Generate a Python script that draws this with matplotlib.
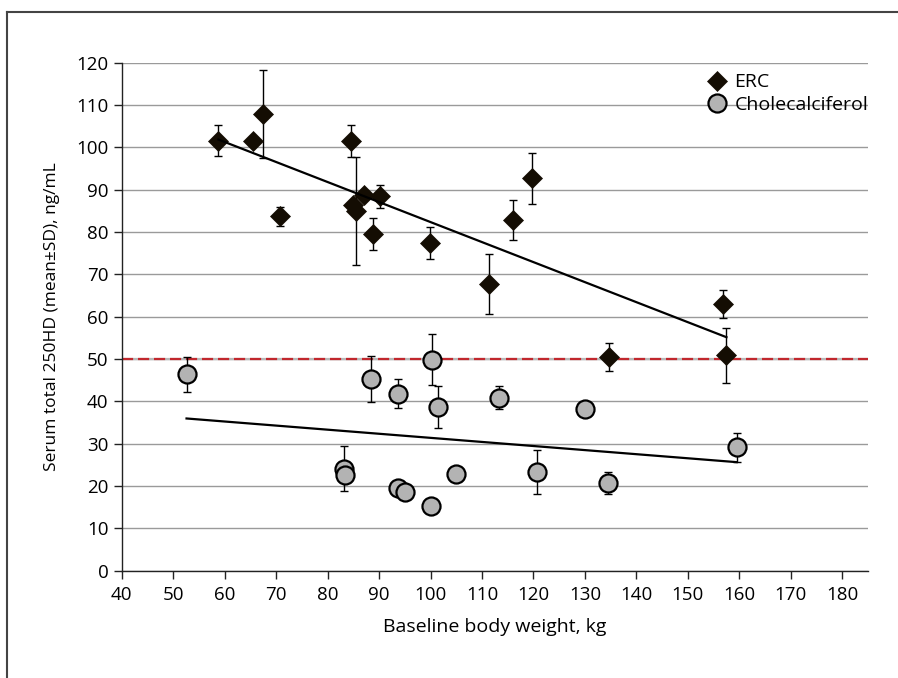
import numpy as np
import matplotlib
matplotlib.use('Agg')
import matplotlib.pyplot as plt
from matplotlib.lines import Line2D

plt.rcParams['font.family'] = ['Open Sans', 'DejaVu Sans']

# ERC group: baseline weight (kg), 25OHD mean and SD (ng/mL)
erc_weight = [58.8, 65.5, 67.5, 70.8, 84.5, 85.5, 85.0, 87.1, 90.2, 88.8,
              99.9, 119.8, 116.0, 111.3, 156.9, 134.7, 157.5]
erc_mean = [101.6, 101.6, 107.9, 83.7, 101.6, 85.0, 86.4, 88.8, 88.4, 79.5,
            77.5, 92.7, 82.9, 67.7, 63.0, 50.4, 50.9]
erc_sd = [3.6, 0.0, 10.3, 2.2, 3.8, 12.7, 0.0, 0.0, 2.8, 3.7,
          3.8, 6.0, 4.7, 7.0, 3.2, 3.3, 6.5]

# Cholecalciferol group
chol_weight = [52.6, 88.4, 93.6, 100.2, 101.5, 83.1, 83.4, 93.6, 95.0, 100.1,
               105.0, 113.3, 130.0, 120.7, 134.5, 159.5]
chol_mean = [46.4, 45.2, 41.8, 49.8, 38.6, 24.1, 22.5, 19.6, 18.5, 15.3,
             22.8, 40.9, 38.2, 23.3, 20.7, 29.1]
chol_sd = [4.1, 5.4, 3.4, 6.0, 5.0, 5.3, 0.0, 0.0, 0.0, 0.0,
           0.0, 2.7, 0.0, 5.2, 2.6, 3.4]

target = 50
xticks = list(range(40, 181, 10))
yticks = list(range(0, 121, 10))

fig = plt.figure(figsize=(8.98, 6.78), dpi=100)
ax = fig.add_axes([0.1355, 0.1583, 0.8311, 0.7492])

# frame around the figure (only left and top visible in the crop)
fig.add_artist(Line2D([0.008, 0.008], [0.0, 0.983], color='#444444', lw=1.5,
                      transform=fig.transFigure))
fig.add_artist(Line2D([0.008, 1.0], [0.983, 0.983], color='#444444', lw=1.5,
                      transform=fig.transFigure))

ax.set_xlim(40, 185)
ax.set_ylim(0, 120)
ax.set_xticks(xticks)
ax.set_yticks(yticks)
ax.grid(True, axis='y', color='#9a9a9a', lw=1.0)
ax.set_axisbelow(True)
for s in ['top', 'right']:
    ax.spines[s].set_visible(False)
for s in ['left', 'bottom']:
    ax.spines[s].set_color('#222222')
    ax.spines[s].set_linewidth(1.0)
ax.tick_params(axis='both', length=6, width=1, color='#222222', labelsize=13.5)
ax.tick_params(axis='x', pad=5.3)

# target line
ax.axhline(target, color='#b8b8b8', lw=1.6, zorder=1.5)
ax.axhline(target, color='#c1272d', lw=1.6, dashes=(5, 2.2), zorder=1.6)

# error bars
ax.errorbar(erc_weight, erc_mean, yerr=erc_sd, fmt='none', ecolor='black',
            elinewidth=1, capsize=2.6, capthick=1, zorder=2)
ax.errorbar(chol_weight, chol_mean, yerr=chol_sd, fmt='none', ecolor='black',
            elinewidth=1, capsize=2.6, capthick=1, zorder=2)

# points
ax.plot(erc_weight, erc_mean, 'D', color='#140d03', ms=10, mec='#140d03',
        mew=0.5, label='ERC', zorder=3)
ax.plot(chol_weight, chol_mean, 'o', color='#b3b3b3', ms=13, mec='black',
        mew=1.6, label='Cholecalciferol', zorder=3)

# linear trend lines
for xs, ys in [(erc_weight, erc_mean), (chol_weight, chol_mean)]:
    k, b = np.polyfit(xs, ys, 1)
    xr = np.array([min(xs), max(xs)])
    ax.plot(xr, k * xr + b, color='black', lw=1.6, zorder=4)

ax.set_xlabel('Baseline body weight, kg', fontsize=14, labelpad=9.5)
ax.set_ylabel('Serum total 250HD (mean±SD), ng/mL', fontsize=12.5, labelpad=12)

ax.legend(loc='upper right', bbox_to_anchor=(1.0, 0.979), frameon=False,
          fontsize=14, handlelength=0.8, handletextpad=0.47, borderpad=0,
          borderaxespad=0, labelspacing=0.24)

fig.savefig('out.png', dpi=100)
